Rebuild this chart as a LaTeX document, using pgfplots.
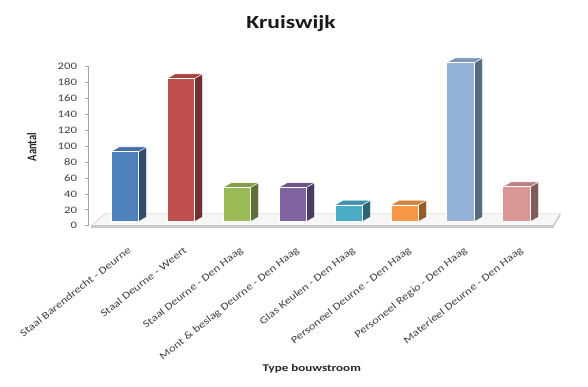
\documentclass[border=0pt]{standalone}
\usepackage{pgfplots}
\pgfplotsset{compat=1.18}
\usepackage{pgfplotstable}
\usepackage{graphicx}
\usepackage{fontspec}
\setmainfont{Carlito}

\definecolor{c0}{HTML}{4F81BD}
\definecolor{c1}{HTML}{C0504D}
\definecolor{c2}{HTML}{9BBB59}
\definecolor{c3}{HTML}{8064A2}
\definecolor{c4}{HTML}{4BACC6}
\definecolor{c5}{HTML}{F79646}
\definecolor{c6}{HTML}{95B3D7}
\definecolor{c7}{HTML}{D99694}

\pgfplotstableread{
idx val
0 93
1 185
2 48
3 48
4 26
5 26
6 205
7 49
}\bars

\newcommand\xl[1]{\scalebox{1.22}[1]{#1}}

\begin{document}
\begin{tikzpicture}
\useasboundingbox (0,0) rectangle (588pt,387pt);
\begin{axis}[
  at={(88.7pt,161.3pt)}, anchor=south west,
  scale only axis, width=464.2pt, height=159pt,
  xmin=-0.64, xmax=7.65, ymin=0, ymax=200,
  clip=false,
  axis y line*=left, axis x line*=bottom,
  x axis line style={draw=none},
  y axis line style={gray!70, line width=0.6pt},
  xtick style={draw=none},
  ytick style={gray!70, line width=0.6pt},
  tick align=outside, major tick length=4pt,
  ytick={0,20,...,200},
  /pgf/number format/assume math mode=true,
  yticklabel={\scalebox{1.27}[1]{\pgfmathprintnumber{\tick}}},
  yticklabel style={anchor=east, inner sep=0pt, xshift=-7.5pt, font=\fontsize{10}{10}\selectfont, text=black!75},
  xtick={0,...,7},
  xticklabels={\xl{Staal Barendrecht - Deurne},\xl{Staal Deurne - Weert},\xl{Staal Deurne - Den Haag},\xl{Mont \& beslag Deurne - Den Haag},\xl{Glas Keulen - Den Haag},\xl{Personeel Deurne - Den Haag},\xl{Personeel Regio - Den Haag},\xl{Materieel Deurne - Den Haag}},
  xticklabel style={rotate=38.5, anchor=north east, inner sep=0pt, xshift=-8pt, yshift=-14pt, font=\fontsize{10.3}{10}\selectfont, text=black!75},
]
% floor
\addplot[fill=gray!6, draw=gray!40, line width=0.5pt] coordinates {(-0.59,0) (7.65,0) (7.78,15) (-0.35,15)} -- cycle;
\addplot[fill=gray!35, draw=gray!45, line width=0.4pt] coordinates {(-0.59,-2.5) (7.65,-2.5) (7.65,0) (-0.59,0)} -- cycle;
\addplot[fill=gray!25, draw=gray!45, line width=0.4pt] coordinates {(7.65,-2.5) (7.78,12.5) (7.78,15) (7.65,0)} -- cycle;
% bars
\pgfplotsinvokeforeach{0,...,7}{
  \pgfplotstablegetelem{#1}{val}\of\bars
  \pgfmathsetmacro\vv{\pgfplotsretval}
  \pgfmathsetmacro\xa{#1-0.245}
  \pgfmathsetmacro\xb{#1+0.245}
  \pgfmathsetmacro\xc{#1+0.245+0.15}
  \pgfmathsetmacro\xd{#1-0.245+0.15}
  \pgfmathsetmacro\vt{\vv+6}
  \edef\doplot{%
    \noexpand\addplot[fill=c#1!60!black, draw=white, line width=0.4pt] coordinates {(\xb,5) (\xc,11) (\xc,\vt) (\xb,\vv)} -- cycle;
    \noexpand\addplot[fill=c#1!85!black, draw=white, line width=0.4pt] coordinates {(\xa,\vv) (\xb,\vv) (\xc,\vt) (\xd,\vt)} -- cycle;
    \noexpand\addplot[fill=c#1, draw=white, line width=0.6pt] coordinates {(\xa,5) (\xb,5) (\xb,\vv) (\xa,\vv)} -- cycle;
  }\doplot
}
\end{axis}
\node[anchor=base, text=black!90] at (291pt,358pt) {\scalebox{1.27}[1]{\fontsize{18.5}{20}\selectfont\bfseries Kruiswijk}};
\node[text=black!85] at (31.7pt,240pt) {\scalebox{1.27}[1]{\rotatebox{90}{\fontsize{10.5}{12}\selectfont\bfseries Aantal}}};
\node[text=black!85] at (311.7pt,18pt) {\scalebox{1.27}[1]{\fontsize{10.3}{12}\selectfont\bfseries Type bouwstroom}};
\end{tikzpicture}
\end{document}
